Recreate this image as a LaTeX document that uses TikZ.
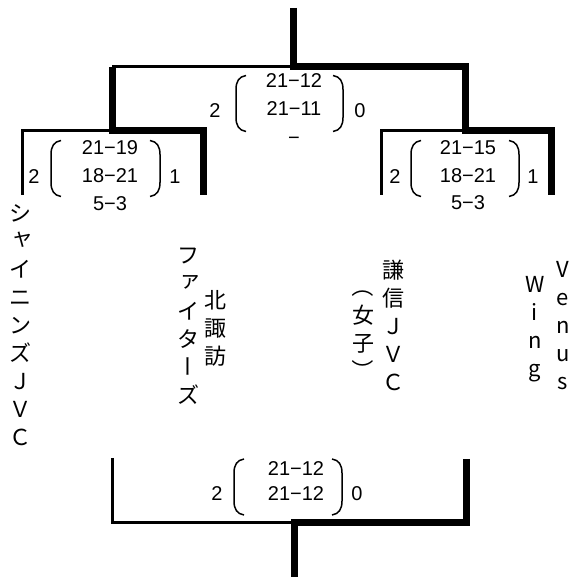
\documentclass[tikz,border=0pt]{standalone}
\usepackage{fontspec}
\setmainfont{Liberation Sans}
\newfontfamily\jp{Noto Sans CJK JP}
\usetikzlibrary{positioning}

\tikzset{
  win/.style={line width=7pt},
  lose/.style={line width=3pt},
  score/.style={font=\fontsize{20}{24}\selectfont, inner sep=0pt, text height=14pt, text depth=0pt},
  team/.style={font=\jp\fontsize{22}{28}\selectfont, align=center, inner sep=0pt},
  brk/.style={line width=1.5pt},
  lbrk/.pic={\draw[brk] (10,-28) .. controls (3,-27) and (0,-22) .. (0,-14) -- (0,14) .. controls (0,22) and (3,27) .. (10,28);},
  rbrk/.pic={\draw[brk] (-10,-28) .. controls (-3,-27) and (0,-22) .. (0,-14) -- (0,14) .. controls (0,22) and (-3,27) .. (-10,28);}
}
\newcommand{\tateturn}[1]{\rotatebox[origin=c]{-90}{\makebox[1em]{\rule[-0.12em]{0pt}{1em}#1}}}
\newcommand{\tatesmall}[1]{\raisebox{4pt}{\hspace{4pt}#1}}

\begin{document}
\begin{tikzpicture}[x=1pt, y=-1pt]
        \useasboundingbox (0,0) rectangle (582,577);

        %final
        \coordinate (champ) at (293.5,8);
        \coordinate (fin) at (293.5,67);
        \coordinate (finL) at (112,67);
        \coordinate (finR) at (465,67);
        \coordinate (semiL) at (112,131);
        \coordinate (semiR) at (465,131);
        \coordinate (shinyTop) at (22,131);
        \coordinate (shinyEnd) at (22,195);
        \coordinate (kitaTop) at (203,131);
        \coordinate (kitaEnd) at (203,195);
        \coordinate (kenshinTop) at (381.5,131);
        \coordinate (kenshinEnd) at (381.5,195);
        \coordinate (venusTop) at (551,131);
        \coordinate (venusEnd) at (551,195);

        \draw [win] (champ)--(fin)--(finR)--(semiR)--(venusTop)--(venusEnd);
        \draw [lose] (fin)--(finL);
        \draw [win] (finL)--(semiL)--(kitaTop)--(kitaEnd);
        \draw [lose] (semiL)--(shinyTop)--(shinyEnd);
        \draw [lose] (semiR)--(kenshinTop)--(kenshinEnd);

        %3rd place
        \coordinate (third) at (294,523);
        \coordinate (thirdOut) at (294,577);
        \coordinate (thirdL) at (112.5,523);
        \coordinate (thirdLTop) at (112.5,458);
        \coordinate (thirdR) at (466,523);
        \coordinate (thirdRTop) at (466,459);
        \draw [lose] (thirdLTop)--(thirdL)--(third);
        \draw [win] (thirdRTop)--(thirdR)--(third)--(thirdOut);

        %final score
        \node[score] (finA) at (215,111) {2};
        \node[score] (finG1) at (294,81) {21−12};
        \node[score] (finG2) at (294,109) {21−11};
        \node[score] (finG3) at (294,138) {−};
        \node[score] (finB) at (360,111) {0};
        \pic at (236,103.5) {lbrk};
        \pic at (343,103.5) {rbrk};

        %left semi score
        \node[score] (semiLA) at (34,177) {2};
        \node[score] (semiLG1) at (110,147.5) {21−19};
        \node[score] (semiLG2) at (110,176) {18−21};
        \node[score] (semiLG3) at (110,204) {5−3};
        \node[score] (semiLB) at (175,177) {1};
        \pic at (51,168.5) {lbrk};
        \pic at (160,168.5) {rbrk};

        %right semi score
        \node[score] (semiRA) at (395,177) {2};
        \node[score] (semiRG1) at (468,147.5) {21−15};
        \node[score] (semiRG2) at (468,176) {18−21};
        \node[score] (semiRG3) at (468,203) {5−3};
        \node[score] (semiRB) at (533,177) {1};
        \pic at (411,168.5) {lbrk};
        \pic at (519,168.5) {rbrk};

        %3rd place score
        \node[score] (thirdA) at (217,494) {2};
        \node[score] (thirdG1) at (296,469) {21−12};
        \node[score] (thirdG2) at (296,494) {21−12};
        \node[score] (thirdB) at (357,494) {0};
        \pic at (234,487) {lbrk};
        \pic at (342,487) {rbrk};

        %teams
        \node[team] (shiny) at (20,325) {シ\\\tatesmall{ャ}\\イ\\ニ\\ン\\ズ\\Ｊ\\Ｖ\\Ｃ};
        \node[team] (kitaA) at (215,328) {北\\諏\\訪};
        \node[team] (kitaB) at (188,326) {フ\\\tatesmall{ァ}\\イ\\タ\\\tateturn{ー}\\ズ};
        \node[team] (kenshinA) at (393,325) {謙\\信\\Ｊ\\Ｖ\\Ｃ};
        \node[team] (kenshinB) at (363,329) {\tateturn{（}\\女\\子\\\tateturn{）}};
        \node[team] (venusA) at (563,326) {V\\e\\n\\u\\s};
        \node[team] (venusB) at (535,329) {W\\i\\n\\g};
\end{tikzpicture}
\end{document}
